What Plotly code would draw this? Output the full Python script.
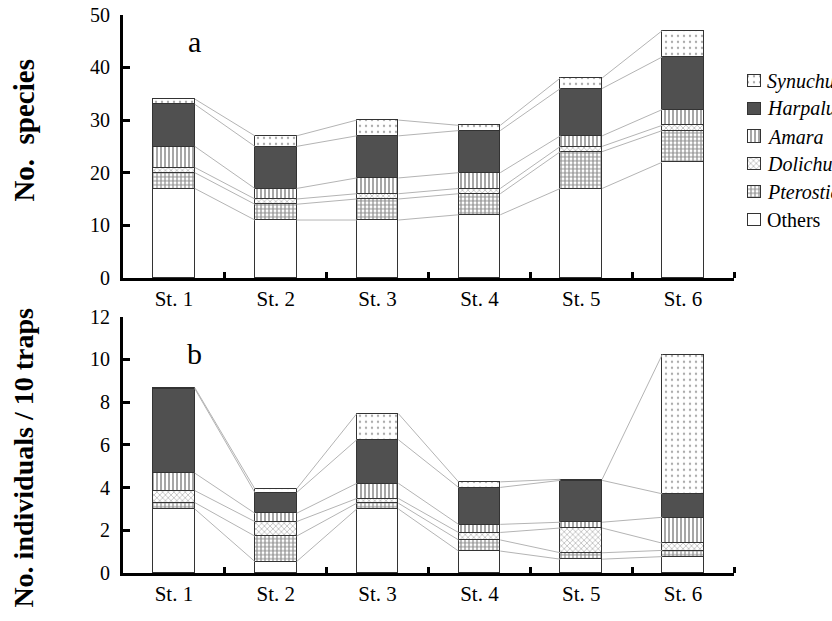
import plotly.graph_objects as go

stations = ["St. 1", "St. 2", "St. 3", "St. 4", "St. 5", "St. 6"]
groups = ["Others", "Pterostichus", "Dolichus", "Amara", "Harpalus", "Synuchus"]

# panel a: number of species
species_others = [17, 11, 11, 12, 17, 22]
species_ptero = [3, 3, 4, 4, 7, 6]
species_doli = [1, 1, 1, 1, 1, 1]
species_amara = [4, 2, 3, 3, 2, 3]
species_harp = [8, 8, 8, 8, 9, 10]
species_synu = [1, 2, 3, 1, 2, 5]

# panel b: individuals / 10 traps
indiv_others = [3.0, 0.54, 3.0, 1.03, 0.65, 0.77]
indiv_ptero = [0.3, 1.19, 0.27, 0.52, 0.3, 0.29]
indiv_doli = [0.56, 0.68, 0.22, 0.35, 1.16, 0.34]
indiv_amara = [0.82, 0.39, 0.71, 0.38, 0.27, 1.21]
indiv_harp = [3.95, 0.97, 2.04, 1.73, 1.96, 1.1]
indiv_synu = [0.05, 0.17, 1.22, 0.26, 0.05, 6.52]

species = [species_others, species_ptero, species_doli, species_amara, species_harp, species_synu]
indiv = [indiv_others, indiv_ptero, indiv_doli, indiv_amara, indiv_harp, indiv_synu]

legend_names = ["Others", "<i>Pterostichus</i>", "<i>Dolichus</i>", "<i>Amara</i>",
                "<i>Harpalus</i>", "<i>Synuchus</i>"]

styles = [
    dict(color="white", pattern=None),
    dict(color="white", pattern=dict(shape="+", size=4, solidity=0.5, fgcolor="#1a1a1a")),
    dict(color="white", pattern=dict(shape="x", size=4, solidity=0.3, fgcolor="#555555")),
    dict(color="white", pattern=dict(shape="|", size=4, solidity=0.4, fgcolor="#222222")),
    dict(color="#505050", pattern=None),
    dict(color="white", pattern=dict(shape=".", size=6, solidity=0.12, fgcolor="#555555")),
]

W = 0.41
xs = list(range(len(stations)))
FONT = "Liberation Serif"


def make_marker(k):
    st = styles[k]
    marker = dict(color=st["color"], line=dict(color="#333333", width=1.2))
    if st["pattern"]:
        p = dict(st["pattern"])
        p["bgcolor"] = "white"
        marker["pattern"] = p
    return marker


fig = go.Figure()

for panel, data, xa, ya in [(0, species, "x", "y"), (1, indiv, "x2", "y2")]:
    cum = []
    run = [0] * len(stations)
    for series in data:
        run = [a + b for a, b in zip(run, series)]
        cum.append(run)
    lx, ly = [], []
    for c in cum:
        for i in range(len(stations) - 1):
            lx += [i + W / 2, i + 1 - W / 2, None]
            ly += [c[i], c[i + 1], None]
    fig.add_trace(go.Scatter(x=lx, y=ly, mode="lines", line=dict(color="#b4b4b4", width=1),
                             showlegend=False, hoverinfo="skip", xaxis=xa, yaxis=ya))
    for k, series in enumerate(data):
        fig.add_trace(go.Bar(x=xs, y=series, width=W, name=groups[k], marker=make_marker(k),
                             xaxis=xa, yaxis=ya, showlegend=False))

# legend keys (drawn as small bars on a hidden axis)
for k in range(len(groups)):
    fig.add_trace(go.Bar(x=[1], y=[k], orientation="h", width=0.44, marker=make_marker(k),
                         xaxis="x3", yaxis="y3", showlegend=False, hoverinfo="skip"))

xdom = [123 / 832, 734 / 832]
common_x = dict(range=[-0.5, 5.5], tickvals=xs, ticktext=stations, ticks="",
                showline=True, linewidth=3, linecolor="black", showgrid=False, zeroline=False,
                tickfont=dict(family=FONT, size=21, color="black"),
                minor=dict(tickvals=[0.5, 1.5, 2.5, 3.5, 4.5, 5.5], ticks="inside", ticklen=6,
                           tickwidth=3, tickcolor="black"),
                domain=xdom, fixedrange=True)
common_y = dict(showline=True, linewidth=3, linecolor="black", showgrid=False, zeroline=False,
                ticks="inside", ticklen=7, tickwidth=3, tickcolor="black",
                tickfont=dict(family=FONT, size=20, color="black"), ticklabelstandoff=6)

leg_top, leg_step = 58.3, 28.8
leg_bot = leg_top + leg_step * len(groups)

annotations = [
    dict(text="a", x=0.2, y=45, xref="x", yref="y", showarrow=False,
         font=dict(family=FONT, size=30, color="black")),
    dict(text="b", x=0.2, y=10.3, xref="x2", yref="y2", showarrow=False,
         font=dict(family=FONT, size=30, color="black")),
    dict(text="<b>No.&nbsp;&nbsp;species</b>", textangle=-90, x=24 / 832, y=1 - 124 / 621,
         xref="paper", yref="paper", showarrow=False, xanchor="center", yanchor="middle",
         font=dict(family=FONT, size=29, color="black")),
    dict(text="<b>No. individuals / 10 traps</b>", textangle=-90, x=24 / 832, y=1 - 463 / 621,
         xref="paper", yref="paper", showarrow=False, xanchor="center", yanchor="middle",
         font=dict(family=FONT, size=28, color="black")),
]
for k, name in enumerate(legend_names):
    annotations.append(dict(text=name, x=765 / 832, y=k, xref="paper", yref="y3",
                            xanchor="left", yanchor="middle", showarrow=False,
                            font=dict(family=FONT, size=20, color="black")))

fig.update_layout(
    width=832, height=621,
    margin=dict(l=0, r=0, t=0, b=0),
    paper_bgcolor="white", plot_bgcolor="rgba(0,0,0,0)",
    barmode="stack",
    bargap=0,
    showlegend=False,
    xaxis=dict(**common_x, anchor="y"),
    xaxis2=dict(**common_x, anchor="y2"),
    yaxis=dict(**common_y, range=[0, 50], tickvals=[0, 10, 20, 30, 40, 50],
               domain=[1 - 276.7 / 621, 1 - 4 / 621], anchor="x"),
    yaxis2=dict(**common_y, range=[0, 12], tickvals=[0, 2, 4, 6, 8, 10, 12],
                domain=[1 - 582.7 / 621, 1 - 317 / 621], anchor="x2"),
    xaxis3=dict(domain=[745 / 832, 764 / 832], range=[-0.25, 1.25], visible=False, anchor="y3",
                fixedrange=True),
    yaxis3=dict(domain=[1 - leg_bot / 621, 1 - leg_top / 621], range=[-0.5, 5.5],
                visible=False, anchor="x3", fixedrange=True),
    annotations=annotations,
)

fig.write_html("out.html")
